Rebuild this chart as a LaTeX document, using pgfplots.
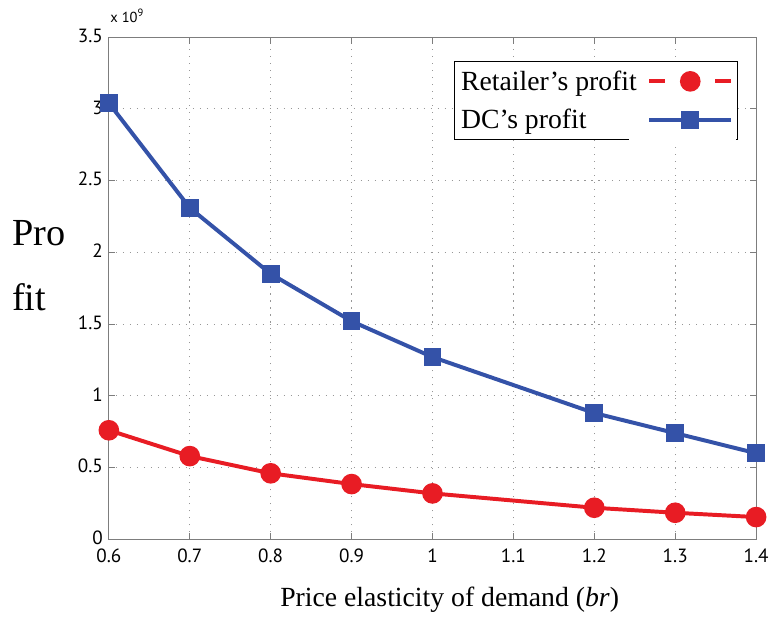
\documentclass[border=0pt]{standalone}
\usepackage{fontspec}
\setmainfont{Liberation Serif}
\newfontfamily\tickfont{PT Sans}
\usepackage{pgfplots}
\pgfplotsset{compat=1.18}
\definecolor{myblue}{RGB}{52,82,168}
\definecolor{myred}{RGB}{232,28,36}
\definecolor{axgray}{RGB}{125,125,125}
\pgfplotsset{
  redleg/.style={legend image code/.code={
    \draw[##1, mark=none] (0pt,0pt)--(12pt,0pt);
    \draw[##1, mark=none] (50pt,0pt)--(62pt,0pt);
    \draw[##1, only marks] plot coordinates {(31pt,0pt)};}},
  blueleg/.style={legend image code/.code={
    \draw[##1, mark=none] (0pt,0pt)--(62pt,0pt);
    \draw[##1, only marks] plot coordinates {(31pt,0pt)};}},
}
\begin{document}
\begin{tikzpicture}
\begin{axis}[name=ax, scale only axis, width=490.5pt, height=380.6pt,
  xmin=0.6, xmax=1.4, ymin=0, ymax=3.5,
  xtick={0.6,0.7,0.8,0.9,1.0,1.1,1.2,1.3,1.4},
  ytick={0,0.5,1,1.5,2,2.5,3,3.5},
  xticklabels={0.6,0.7,0.8,0.9,1,1.1,1.2,1.3,1.4},
  yticklabels={0,0.5,1,1.5,2,2.5,3,3.5},
  ticklabel style={font=\tickfont\fontsize{14.5}{16}\selectfont},
  xticklabel style={yshift=-4pt},
  yticklabel style={xshift=-1pt, yshift=1pt},
  axis line style={axgray, line width=0.8pt},
  tick style={axgray, line width=0.6pt},
  major tick length=5pt,
  tick align=inside,
  grid=major, grid style={axgray!80, line width=0.8pt, dash pattern=on 0.8pt off 4.5pt},
  xlabel={Price elasticity of demand (\textit{br})},
  xlabel style={font=\fontsize{21}{24}\selectfont, at={(axis description cs:0.5,0)}, anchor=center, yshift=-46pt, xshift=13pt},
  legend plot pos=right,
  legend cell align=left,
  legend style={name=leg, at={(1,1)}, anchor=north east, xshift=-14pt, yshift=-18pt,
    draw=black, line width=0.8pt, font=\fontsize{21}{25}\selectfont,
    row sep=9pt, inner xsep=3pt, inner ysep=5pt, column sep=6pt},
  clip=false,
]
\addplot[myred, line width=3pt, mark=*, mark size=6.3pt, mark options={solid, fill=myred}, redleg]
  coordinates {(0.6,0.76) (0.7,0.58) (0.8,0.46) (0.9,0.385) (1.0,0.32) (1.2,0.22) (1.3,0.185) (1.4,0.155)};
\addlegendentry{Retailer’s profit}
\addplot[myblue, line width=3pt, mark=square*, mark size=5.25pt, mark options={solid, fill=myblue}, blueleg]
  coordinates {(0.6,3.04) (0.7,2.31) (0.8,1.85) (0.9,1.52) (1.0,1.27) (1.2,0.88) (1.3,0.74) (1.4,0.60)};
\addlegendentry{DC’s profit}
\node[anchor=west, inner sep=0pt, align=left, font=\fontsize{29}{49}\selectfont]
  at ([xshift=-73.5pt]axis description cs:0,0.545) {Pro\\fit};
\node[anchor=south west, inner sep=0pt, font=\tickfont\fontsize{11}{13}\selectfont]
  at ([xshift=1pt, yshift=11pt]axis description cs:0,1) {x 10$^{\mbox{\tickfont\fontsize{8}{9}\selectfont 9}}$};
\end{axis}
\fill[white] ([xshift=-82pt, yshift=-2pt]leg.south east) rectangle ([xshift=-1.2pt, yshift=9pt]leg.south east);
\path ([xshift=-82.5pt, yshift=-57pt]ax.south west) rectangle ([xshift=6.75pt, yshift=28.1pt]ax.north east);
\end{tikzpicture}
\end{document}
